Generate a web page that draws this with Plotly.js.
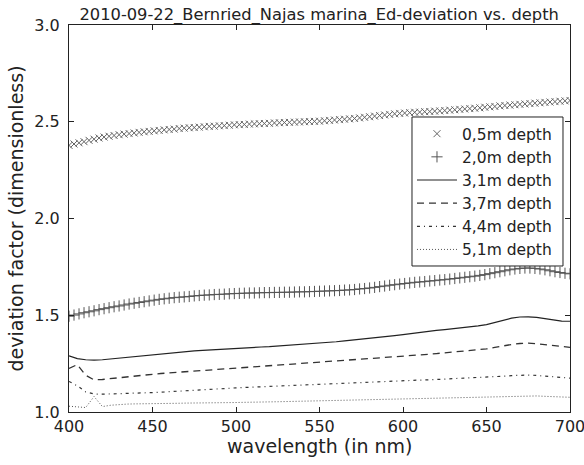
<!DOCTYPE html>
<html>
<head>
<meta charset="utf-8">
<script src="https://cdn.plot.ly/plotly-3.0.1.min.js"></script>
<style>html,body{margin:0;padding:0;background:#fff;}#chart{width:584px;height:465px;}</style>
</head>
<body>
<div id="chart"></div>
<script>
// wavelength grid for the marker series (nm)
var wlMarkers = [];
for (var w = 400; w <= 700; w += 3) wlMarkers.push(w);
// wavelength grid for the line series (nm)
var wlLines = [];
for (var w2 = 400; w2 <= 700; w2 += 5) wlLines.push(w2);

var seriesNames = ["0,5m depth", "2,0m depth", "3,1m depth", "3,7m depth", "4,4m depth", "5,1m depth"];

var d05 = [2.378,2.385,2.391,2.397,2.404,2.41,2.416,2.421,2.425,2.429,2.433,2.436,2.439,2.442,2.445,2.448,2.45,2.453,2.455,2.458,
2.46,2.462,2.465,2.467,2.469,2.47,2.472,2.474,2.476,2.477,2.479,2.48,2.482,2.484,2.485,2.486,2.488,2.489,2.49,2.491,
2.492,2.494,2.495,2.496,2.497,2.498,2.499,2.5,2.501,2.502,2.503,2.505,2.507,2.509,2.511,2.513,2.515,2.517,2.52,2.523,
2.526,2.529,2.532,2.535,2.538,2.541,2.543,2.545,2.547,2.549,2.55,2.552,2.553,2.555,2.556,2.558,2.56,2.562,2.564,2.566,
2.568,2.57,2.572,2.575,2.577,2.579,2.582,2.584,2.586,2.588,2.59,2.592,2.594,2.596,2.598,2.6,2.602,2.604,2.606,2.608,2.61];

var d20 = [1.495,1.501,1.507,1.513,1.518,1.523,1.529,1.534,1.539,1.544,1.548,1.553,1.558,1.562,1.566,1.57,1.574,1.578,1.582,1.585,
1.588,1.591,1.593,1.595,1.597,1.6,1.602,1.604,1.605,1.607,1.608,1.609,1.611,1.612,1.613,1.614,1.615,1.615,1.616,1.617,
1.617,1.618,1.618,1.619,1.619,1.62,1.621,1.621,1.622,1.623,1.624,1.625,1.626,1.627,1.628,1.63,1.631,1.633,1.636,1.638,
1.641,1.644,1.648,1.651,1.655,1.658,1.661,1.664,1.667,1.67,1.672,1.674,1.677,1.679,1.682,1.684,1.687,1.69,1.693,1.696,
1.699,1.702,1.706,1.71,1.715,1.72,1.725,1.73,1.735,1.739,1.742,1.744,1.744,1.742,1.739,1.735,1.73,1.725,1.721,1.717,1.714];

var d31 = [1.29,1.276,1.27,1.268,1.27,1.274,1.279,1.284,1.289,1.294,1.298,1.302,1.306,1.31,1.313,1.316,1.318,1.321,1.323,1.326,
1.328,1.331,1.333,1.336,1.338,1.341,1.343,1.346,1.35,1.353,1.356,1.36,1.363,1.368,1.372,1.376,1.38,1.385,1.39,1.395,
1.4,1.406,1.412,1.417,1.422,1.426,1.43,1.435,1.44,1.445,1.452,1.462,1.474,1.485,1.491,1.492,1.489,1.483,1.476,1.47,1.469];

var d37 = [1.225,1.245,1.19,1.166,1.168,1.173,1.178,1.183,1.187,1.191,1.195,1.199,1.202,1.205,1.208,1.211,1.214,1.217,1.22,1.223,
1.226,1.229,1.232,1.235,1.238,1.241,1.244,1.247,1.25,1.253,1.256,1.259,1.262,1.265,1.268,1.271,1.275,1.278,1.281,1.285,
1.288,1.291,1.295,1.298,1.302,1.306,1.31,1.313,1.316,1.32,1.326,1.334,1.342,1.349,1.354,1.356,1.353,1.348,1.342,1.337,1.334];

var d44 = [1.158,1.135,1.104,1.093,1.092,1.093,1.094,1.096,1.097,1.099,1.1,1.102,1.105,1.107,1.11,1.112,1.115,1.117,1.12,1.122,
1.125,1.127,1.129,1.131,1.133,1.135,1.136,1.138,1.139,1.141,1.142,1.144,1.146,1.148,1.15,1.152,1.154,1.156,1.158,1.16,
1.162,1.163,1.165,1.166,1.168,1.17,1.171,1.173,1.174,1.176,1.178,1.181,1.185,1.188,1.19,1.191,1.189,1.186,1.182,1.178,1.175];

var d51 = [1.03,1.025,1.023,1.08,1.028,1.035,1.039,1.041,1.042,1.042,1.043,1.044,1.045,1.045,1.046,1.046,1.047,1.047,1.048,1.048,
1.049,1.05,1.05,1.051,1.052,1.053,1.054,1.055,1.056,1.057,1.058,1.059,1.06,1.061,1.062,1.063,1.064,1.065,1.065,1.066,
1.067,1.068,1.069,1.07,1.071,1.072,1.073,1.074,1.075,1.076,1.077,1.079,1.081,1.083,1.084,1.084,1.083,1.081,1.079,1.077,1.076];

var xTicks = [400, 450, 500, 550, 600, 650, 700];
var yTicks = [1.0, 1.5, 2.0, 2.5, 3.0];
var yTickText = ["1.0", "1.5", "2.0", "2.5", "3.0"];

var FONT = "DejaVu Sans, sans-serif";
var INK = "#222222";

var traces = [
  {x: wlMarkers, y: d05, name: seriesNames[0], mode: "markers", type: "scatter",
   marker: {symbol: "x-thin-open", size: 7, color: "#666", line: {color: "#666", width: 1}}},
  {x: wlMarkers, y: d20, name: seriesNames[1], mode: "markers", type: "scatter",
   marker: {symbol: "cross-thin-open", size: 8, color: "#555", line: {color: "#555", width: 1}}},
  {x: wlLines, y: d31, name: seriesNames[2], mode: "lines", type: "scatter",
   line: {color: INK, width: 1.2}},
  {x: wlLines, y: d37, name: seriesNames[3], mode: "lines", type: "scatter",
   line: {color: "#333", width: 1.3, dash: "7px,5px"}},
  {x: wlLines, y: d44, name: seriesNames[4], mode: "lines", type: "scatter",
   line: {color: "#333", width: 1.2, dash: "3px,4px,1px,4px"}},
  {x: wlLines, y: d51, name: seriesNames[5], mode: "lines", type: "scatter",
   line: {color: "#555", width: 1, dash: "1px,2px"}}
];

var layout = {
  width: 584, height: 465,
  margin: {l: 69, r: 14, t: 25, b: 53, pad: 0},
  paper_bgcolor: "#fff", plot_bgcolor: "#fff",
  font: {family: FONT, color: INK, size: 16},
  title: {text: "2010-09-22_Bernried_Najas marina_Ed-deviation vs. depth",
          font: {family: FONT, size: 16.3, color: INK},
          x: 0.5465, xanchor: "center", y: 0.97, yanchor: "middle", yref: "container"},
  xaxis: {range: [400, 700], tickvals: xTicks, ticktext: xTicks.map(String),
          ticks: "inside", ticklen: 5, tickcolor: INK, showline: true, linecolor: INK, linewidth: 1,
          mirror: "ticks", showgrid: false, zeroline: false, ticklabeloverflow: "allow",
          tickfont: {family: FONT, size: 16, color: INK}},
  yaxis: {range: [1.0, 3.0], tickvals: yTicks, ticktext: yTickText,
          ticks: "inside", ticklen: 5, tickcolor: INK, showline: true, linecolor: INK, linewidth: 1,
          mirror: "ticks", showgrid: false, zeroline: false, ticklabelstandoff: 5,
          tickfont: {family: FONT, size: 16, color: INK},
          title: {text: "deviation factor (dimensionless)", font: {family: FONT, size: 19, color: INK}, standoff: 5}},
  annotations: [{text: "wavelength (in nm)", xref: "paper", yref: "paper", x: 0.5, y: -0.0879,
                 xanchor: "center", yanchor: "middle", showarrow: false,
                 font: {family: FONT, size: 19, color: INK}}],
  showlegend: true,
  legend: {x: 0.6846, xanchor: "left", y: 0.762, yanchor: "top",
           bgcolor: "rgba(0,0,0,0)", borderwidth: 0,
           font: {family: FONT, size: 15.5, color: INK}, itemwidth: 40},
  shapes: [{type: "rect", xref: "paper", yref: "paper", x0: 0.6846, x1: 0.986, y0: 0.3773, y1: 0.7623,
            fillcolor: "#fff", line: {color: INK, width: 1}, layer: "above"}]
};

Plotly.newPlot("chart", traces, layout, {displayModeBar: false, staticPlot: true});
</script>
</body>
</html>
